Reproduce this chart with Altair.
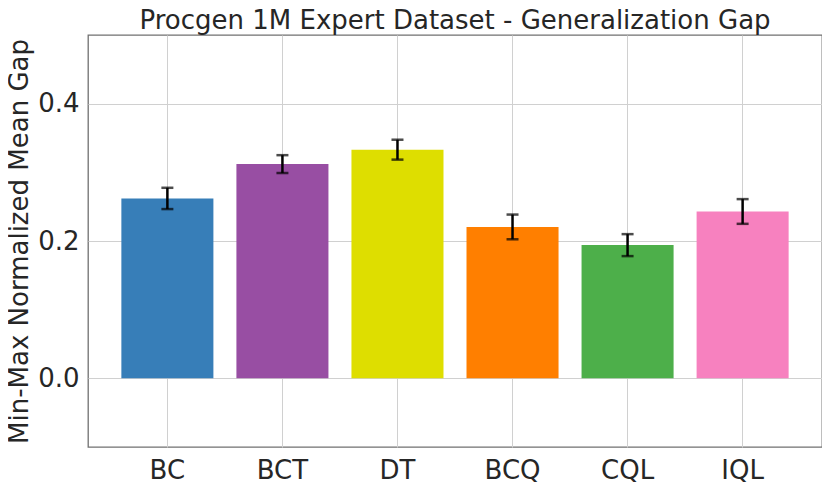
import altair as alt
import pandas as pd

methods = ["BC", "BCT", "DT", "BCQ", "CQL", "IQL"]
means = [0.262, 0.312, 0.333, 0.2205, 0.194, 0.243]
errs = [0.0155, 0.013, 0.0145, 0.018, 0.016, 0.018]
colors = ["#377eb8", "#984ea3", "#dede00", "#ff7f00", "#4daf4a", "#f781bf"]

df = pd.DataFrame({"method": methods, "mean": means, "err": errs})
df["lo"] = df["mean"] - df["err"]
df["hi"] = df["mean"] + df["err"]

FONT = "DejaVu Sans"
TXT = "#262626"
FS = 26

xenc = alt.X(
    "method:N",
    sort=methods,
    scale=alt.Scale(paddingInner=0.2, paddingOuter=0.29),
    axis=alt.Axis(
        title=None, labelAngle=0, grid=True, bandPosition=0.5, ticks=False,
        labelFontSize=FS, labelColor=TXT, labelFont=FONT, labelPadding=10,
        gridColor="#d0d0d0", domain=False,
    ),
)
yscale = alt.Scale(domain=[-0.1, 0.5], nice=False, zero=False)
yaxis = alt.Axis(
    title="Min-Max Normalized Mean Gap", values=[0.0, 0.2, 0.4], format=".1f",
    labelFontSize=FS, labelColor=TXT, labelFont=FONT, labelPadding=9, ticks=False,
    titleFontSize=FS, titleColor=TXT, titleFont=FONT, titleFontWeight="normal",
    titlePadding=5, gridColor="#d0d0d0", domain=False,
)

bars = alt.Chart(df).mark_bar().encode(
    x=xenc,
    y=alt.Y("mean:Q", scale=yscale, axis=yaxis),
    y2=alt.datum(0),
    color=alt.Color("method:N", scale=alt.Scale(domain=methods, range=colors), legend=None),
)
rules = alt.Chart(df).mark_rule(color="black", strokeWidth=2.5).encode(
    x=alt.X("method:N", sort=methods), y="lo:Q", y2="hi:Q"
)
caps_lo = alt.Chart(df).mark_tick(color="black", thickness=2.5, size=12).encode(
    x=alt.X("method:N", sort=methods), y="lo:Q"
)
caps_hi = alt.Chart(df).mark_tick(color="black", thickness=2.5, size=12).encode(
    x=alt.X("method:N", sort=methods), y="hi:Q"
)

chart = (
    alt.layer(bars, rules, caps_lo, caps_hi)
    .properties(
        width=734, height=412,
        title=alt.TitleParams(
            "Procgen 1M Expert Dataset - Generalization Gap",
            fontSize=FS, font=FONT, color=TXT, fontWeight="normal", offset=1,
        ),
        autosize=alt.AutoSizeParams(type="none"),
        padding={"left": 80, "top": 27, "right": 0, "bottom": 39},
    )
    .configure_view(stroke="#707070", strokeWidth=1.3)
)

chart.save("out.html", embed_options={"renderer": "svg", "actions": False})
